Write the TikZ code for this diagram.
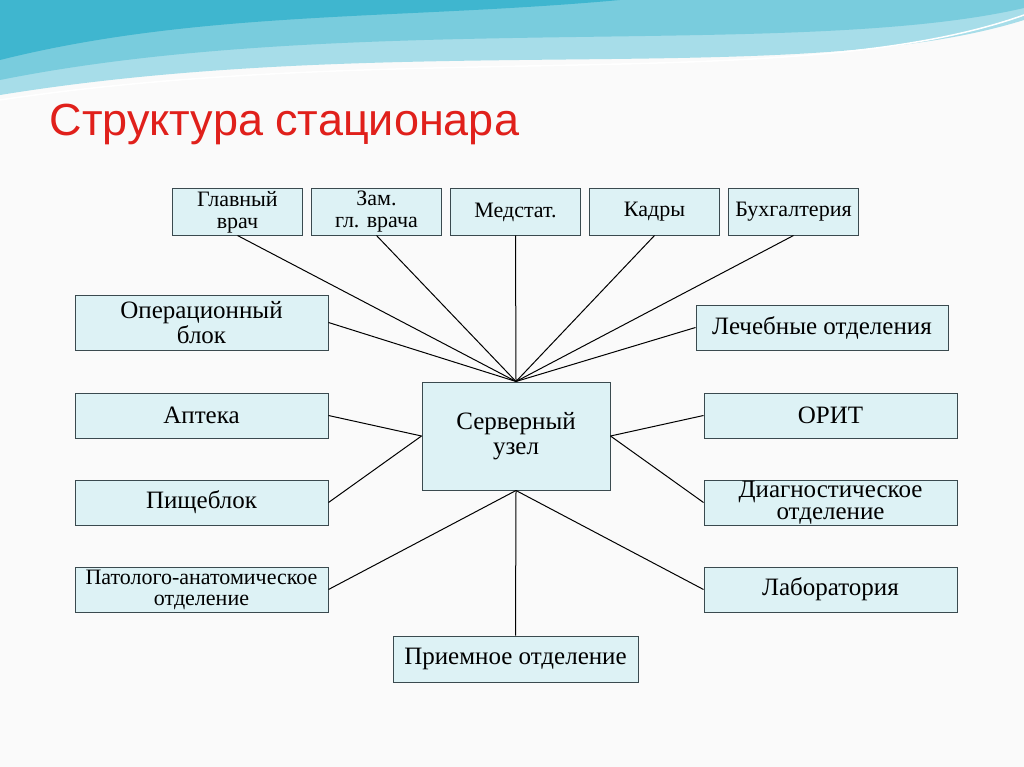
\documentclass[tikz,border=0pt]{standalone}
\usepackage{fontspec}
\setmainfont{Liberation Serif}
\newfontfamily\titlefont{Liberation Sans}
\usetikzlibrary{positioning}
\definecolor{boxfill}{HTML}{DDF2F5}
\definecolor{boxline}{HTML}{3A4A4F}
\definecolor{titlered}{HTML}{E0201B}
\definecolor{wavea}{HTML}{3FB6CF}
\definecolor{waveb}{HTML}{A7DDE9}
\tikzset{
  unit/.style={draw=boxline,fill=boxfill,line width=1pt,align=center,
               inner sep=0pt,font=\fontsize{25}{25}\selectfont},
  small unit/.style={unit,font=\fontsize{22}{22}\selectfont},
  link/.style={line width=1pt,black}
}
\begin{document}
\begin{tikzpicture}[x=1pt,y=-1pt]
\useasboundingbox (0,0) rectangle (1024,767);
\fill[gray!4] (0,0) rectangle (1024,767);
% wave at the top
\fill[waveb] (0,0) -- (1024,0) -- (1024,20) .. controls (800,90) and (400,30) .. (0,95) -- cycle;
\fill[wavea!70] (0,0) -- (1024,0) -- (1024,8) .. controls (800,60) and (350,10) .. (0,80) -- cycle;
\fill[wavea] (0,0) -- (620,0) .. controls (400,20) and (200,10) .. (0,60) -- cycle;
\draw[white,line width=1.5pt] (0,100) .. controls (400,40) and (800,95) .. (1024,15);
\node[anchor=west,text=titlered,font=\titlefont\fontsize{45}{45}\selectfont] (title) at (46,124) {Структура стационара};
% server in the middle
\node[unit,minimum width=188,minimum height=108] (server) at (516,436) {Серверный\\узел};
% top row
\foreach \t [count=\i] in {Главный\\врач,Зам.\\гл. врача,Медстат.,Кадры,Бухгалтерия}{%
  \node[small unit,minimum width=130,minimum height=46] (top\i) at (237.5+139*\i-139,212) {\t};
  \draw[link] (top\i.south) -- (server.north);
}
% left column
\node[unit,minimum width=253,minimum height=55] (oper) at (201.5,322.5) {Операционный\\блок};
\node[unit,minimum width=253,minimum height=45] (apteka) at (201.5,415.5) {Аптека};
\node[unit,minimum width=253,minimum height=45] (pishe) at (201.5,502.5) {Пищеблок};
\node[unit,minimum width=253,minimum height=45,font=\fontsize{22}{21}\selectfont] (pato) at (201.5,589.5) {Патолого-анатомическое\\отделение};
% right column
\node[unit,minimum width=252,minimum height=45] (lech) at (822,327.5) {Лечебные отделения};
\node[unit,minimum width=253,minimum height=45] (orit) at (830.5,415.5) {ОРИТ};
\node[unit,minimum width=253,minimum height=45,font=\fontsize{25}{22}\selectfont] (diag) at (830.5,502.5) {Диагностическое\\отделение};
\node[unit,minimum width=253,minimum height=45] (lab) at (830.5,589.5) {Лаборатория};
% bottom
\node[unit,minimum width=245,minimum height=46] (priem) at (515.5,659) {Приемное отделение};
% links
\draw[link] (oper.east) -- (server.north);
\draw[link] (lech.west) -- (server.north);
\draw[link] (apteka.east) -- (server.west);
\draw[link] (pishe.east) -- (server.west);
\draw[link] (orit.west) -- (server.east);
\draw[link] (diag.west) -- (server.east);
\draw[link] (pato.east) -- (server.south);
\draw[link] (lab.west) -- (server.south);
\draw[link] (priem.north) -- (server.south);
\end{tikzpicture}
\end{document}
